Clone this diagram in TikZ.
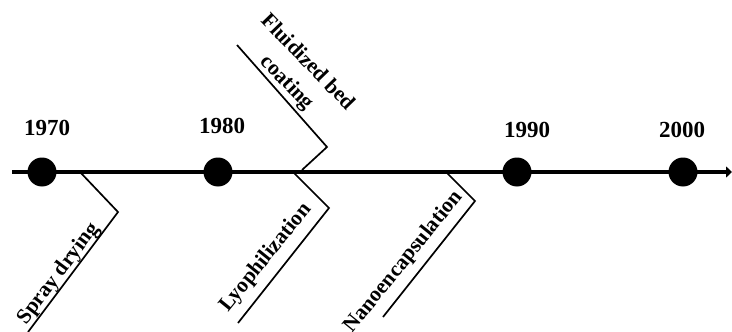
\documentclass[tikz,border=0pt]{standalone}
\usepackage{fontspec}
\setmainfont{Liberation Serif}
\usetikzlibrary{arrows.meta}
\tikzset{
  mainline/.style={line width=4.5pt,-{Triangle[length=6pt,width=11pt]}},
  dotnode/.style={circle,fill=black,inner sep=0pt,minimum size=29pt},
  yearlbl/.style={font=\fontsize{23}{27}\selectfont\bfseries,inner sep=0pt,anchor=base},
  branch/.style={line width=1.7pt,line join=miter},
  techlbl/.style={font=\fontsize{21.5}{29}\selectfont\bfseries,inner sep=0pt,align=center},
}
\begin{document}
\begin{tikzpicture}[x=1pt,y=1pt]
\useasboundingbox (0,-332) rectangle (732,0);
% main axis
\coordinate (axstart) at (12,-172);
\coordinate (axend) at (732,-172);
\draw[mainline] (axstart) -- (axend);
% dots
\node[dotnode] (d1970) at (42,-172) {};
\node[dotnode] (d1980) at (218,-172) {};
\node[dotnode] (d1990) at (517,-172) {};
\node[dotnode] (d2000) at (683,-172) {};
% years
\node[yearlbl] (y1970) at (47,-135) {1970};
\node[yearlbl] (y1980) at (222,-133) {1980};
\node[yearlbl] (y1990) at (527,-137) {1990};
\node[yearlbl] (y2000) at (682,-137) {2000};
% spray drying
\coordinate (s0) at (80,-172);
\coordinate (s1) at (118,-212);
\coordinate (s2) at (28,-332);
\draw[branch] (s0) -- (s1) -- (s2);
\node[techlbl,rotate=53] (spray) at (59,-274) {Spray drying};
% lyophilization
\coordinate (l0) at (293,-172);
\coordinate (l1) at (329,-208);
\coordinate (l2) at (238,-323);
\draw[branch] (l0) -- (l1) -- (l2);
\node[techlbl,rotate=51] (lyo) at (266,-258) {Lyophilization};
% nanoencapsulation
\coordinate (n0) at (446,-172);
\coordinate (n1) at (475,-201);
\coordinate (n2) at (383,-317);
\draw[branch] (n0) -- (n1) -- (n2);
\node[techlbl,rotate=51] (nano) at (404,-262) {Nanoencapsulation};
% fluidized bed coating
\coordinate (f0) at (302,-170);
\coordinate (f1) at (327,-147);
\coordinate (f2) at (237,-45);
\draw[branch] (f0) -- (f1) -- (f2);
\node[techlbl,rotate=-46] (fluid) at (297,-73) {Fluidized bed\\coating};
\end{tikzpicture}
\end{document}
